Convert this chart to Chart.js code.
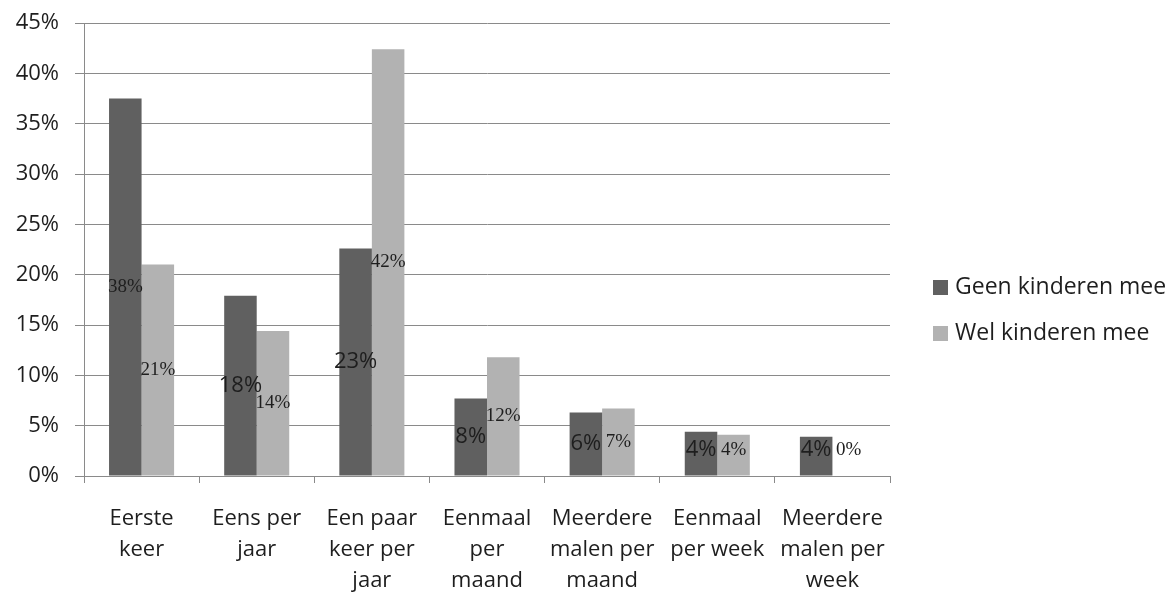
<!DOCTYPE html>
<html>
<head>
<meta charset="utf-8">
<script src="https://cdn.jsdelivr.net/npm/chart.js@4/dist/chart.umd.min.js"></script>
<style>
  body { margin: 0; background: #fff; }
  #wrap { width: 1168px; height: 594px; }
</style>
</head>
<body>
<div id="wrap"><canvas id="chart"></canvas></div>
<script>
// Data
const categories = [
    ['Eerste', 'keer'],
    ['Eens per', 'jaar'],
    ['Een paar', 'keer per', 'jaar'],
    ['Eenmaal', 'per', 'maand'],
    ['Meerdere', 'malen per', 'maand'],
    ['Eenmaal', 'per week'],
    ['Meerdere', 'malen per', 'week'],
];
const seriesNames = ['Geen kinderen mee', 'Wel kinderen mee'];
const geenValues = [37.5, 17.9, 22.6, 7.7, 6.3, 4.4, 3.9];
const welValues = [21.0, 14.4, 42.4, 11.8, 6.7, 4.1, 0];
const yMax = 45;
const yStep = 5;

const colors = ['#606060', '#b2b2b2'];
const textColor = '#1e1e1e';
const gridColor = '#8a8a8a';
const sansFont = '"Open Sans", "Noto Sans", sans-serif';

// Data labels in the middle of each bar
const valueLabels = {
    id: 'valueLabels',
    afterDatasetsDraw(chart) {
        const ctx = chart.ctx;
        const zeroY = chart.scales.y.getPixelForValue(0);
        ctx.save();
        ctx.fillStyle = textColor;
        ctx.textAlign = 'center';
        ctx.textBaseline = 'middle';
        chart.data.datasets.forEach((ds, i) => {
            chart.getDatasetMeta(i).data.forEach((bar, j) => {
                const big = i === 0 && j > 0;
                ctx.font = big ? '22px ' + sansFont : '19px "Liberation Serif", serif';
                const y = Math.min((bar.y + bar.base) / 2, zeroY - 26);
                ctx.fillText(Math.round(ds.data[j]) + '%', bar.x, y);
            });
        });
        ctx.restore();
    },
};

// Legend on the right
const sideLegend = {
    id: 'sideLegend',
    afterDraw(chart) {
        const ctx = chart.ctx;
        const x = chart.chartArea.right + 43;
        const midY = chart.height / 2 + 13;
        ctx.save();
        ctx.font = '23px ' + sansFont;
        ctx.textBaseline = 'middle';
        chart.data.datasets.forEach((ds, i) => {
            const y = midY + (i - 0.5) * 46;
            ctx.fillStyle = ds.backgroundColor;
            ctx.fillRect(x, y - 7, 15, 15);
            ctx.fillStyle = textColor;
            ctx.fillText(ds.label, x + 22, y);
        });
        ctx.restore();
    },
};

const ctx = document.getElementById('chart').getContext('2d');
const chart = new Chart(ctx, {
    type: 'bar',
    data: {
        labels: categories,
        datasets: [{
            label: seriesNames[0],
            data: geenValues,
            backgroundColor: colors[0],
        }, {
            label: seriesNames[1],
            data: welValues,
            backgroundColor: colors[1],
        }],
    },
    options: {
        responsive: true,
        maintainAspectRatio: false,
        animation: false,
        categoryPercentage: 0.565,
        barPercentage: 1,
        layout: {
            padding: { top: 23, right: 278, bottom: 0, left: 0 },
        },
        plugins: {
            legend: { display: false },
            tooltip: { enabled: false },
        },
        scales: {
            x: {
                grid: {
                    display: true,
                    drawOnChartArea: false,
                    drawTicks: true,
                    tickLength: 7,
                    color: gridColor,
                },
                border: { color: gridColor },
                ticks: {
                    color: textColor,
                    font: { family: sansFont, size: 22, lineHeight: 1.42 },
                    padding: 20,
                    maxRotation: 0,
                    autoSkip: false,
                },
                afterFit(scale) { scale.height = 118; },
            },
            y: {
                min: 0,
                max: yMax,
                grid: {
                    color: gridColor,
                    tickLength: 9,
                },
                border: { color: gridColor },
                ticks: {
                    stepSize: yStep,
                    color: textColor,
                    font: { family: sansFont, size: 22 },
                    padding: 16,
                    callback: (v) => v + '%',
                },
                afterFit(scale) {
                    scale.width = 84;
                    scale.paddingTop = 0;
                    scale.paddingBottom = 0;
                },
            },
        },
    },
    plugins: [valueLabels, sideLegend],
});
</script>
</body>
</html>
